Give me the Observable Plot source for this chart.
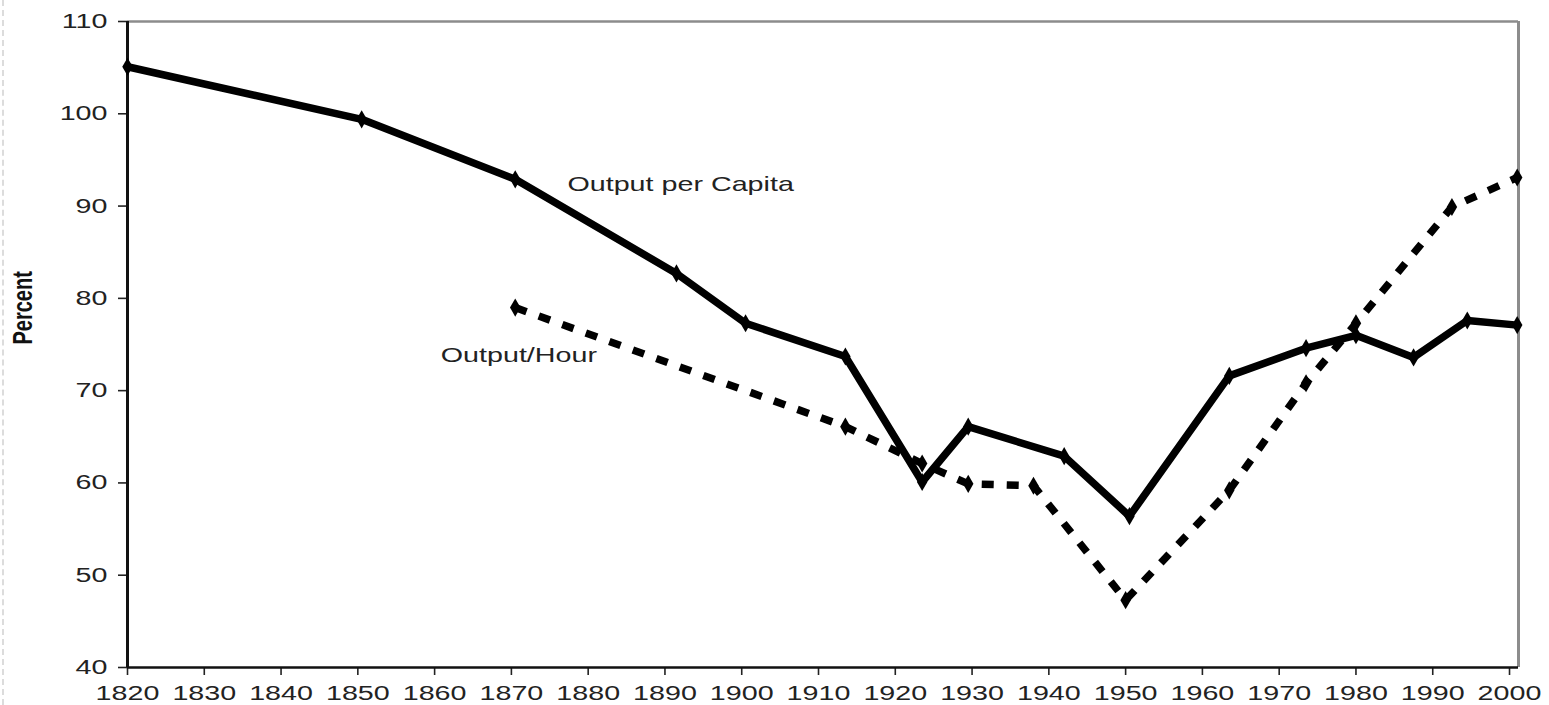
<!DOCTYPE html>
<html><head><meta charset="utf-8">
<script src="https://cdn.jsdelivr.net/npm/d3@7"></script>
<script src="https://cdn.jsdelivr.net/npm/@observablehq/plot@0.6"></script>
<style>
html,body{margin:0;padding:0;background:#fff;}
#chart{position:relative;width:1549px;height:705px;overflow:hidden;}
#edge{position:absolute;left:2px;top:0;height:705px;border-left:2px dashed #dcdcdc;}
</style></head><body>
<div id="chart"><div id="edge"></div></div>
<script>
// Output per Capita (solid line)
const capitaYears  = [1820, 1850.5, 1870.5, 1891.5, 1900.5, 1913.5, 1923.5, 1929.5, 1942, 1950.5, 1963.5, 1973.5, 1980, 1987.5, 1994.5, 2001];
const capitaValues = [105.1, 99.4, 92.9, 82.7, 77.3, 73.7, 60.1, 66.1, 62.9, 56.4, 71.6, 74.6, 76.0, 73.6, 77.6, 77.1];
// Output/Hour (dashed line)
const hourYears  = [1870.5, 1913.5, 1923.5, 1929.5, 1938, 1950, 1963.5, 1973.5, 1980, 1992.5, 2001];
const hourValues = [79.0, 66.1, 62.1, 59.9, 59.7, 47.3, 59.2, 70.8, 77.3, 89.9, 93.1];
// Axis ticks
const xTicks = [1820, 1830, 1840, 1850, 1860, 1870, 1880, 1890, 1900, 1910, 1920, 1930, 1940, 1950, 1960, 1970, 1980, 1990, 2000];
const yTicks = [40, 50, 60, 70, 80, 90, 100, 110];
// Labels
const seriesLabels = [
  {x: 1877.3, y: 92.3, text: "Output per Capita"},
  {x: 1860.8, y: 73.8, text: "Output/Hour"}
];
const yLabel = "Percent";

const capita = capitaYears.map((x, i) => ({year: x, value: capitaValues[i]}));
const hour = hourYears.map((x, i) => ({year: x, value: hourValues[i]}));
const xMax = 2001.17;
const stretch = 1.4; // the reference's lettering is drawn horizontally widened

const plot = Plot.plot({
  width: 1549, height: 705,
  marginLeft: 127, marginRight: 31, marginTop: 21, marginBottom: 38,
  style: {fontFamily: "'Liberation Sans', Arial, sans-serif", fontSize: "20.5px", color: "#222", background: "#fff"},
  x: {domain: [1820, xMax], label: null},
  y: {domain: [40, 110], label: null},
  marks: [
    Plot.ruleY([110], {stroke: "#8c8c8c", strokeWidth: 2.5}),
    Plot.ruleX([xMax], {stroke: "#8c8c8c", strokeWidth: 3}),
    Plot.axisY({ticks: yTicks, tickSize: 9, tickPadding: 11, label: null, stroke: "#222", strokeWidth: 1.6, fill: "#222"}),
    Plot.axisX({ticks: xTicks, tickSize: 8, tickPadding: 10, label: null, tickFormat: d => String(d), stroke: "#222", strokeWidth: 1.6, fill: "#222"}),
    Plot.ruleX([1820], {stroke: "#111", strokeWidth: 3}),
    Plot.ruleY([40], {stroke: "#111", strokeWidth: 2.5}),
    Plot.line(hour, {x: "year", y: "value", stroke: "#000", strokeWidth: 7.5, strokeDasharray: "12,13", strokeLinecap: "butt"}),
    Plot.dot(hour, {x: "year", y: "value", symbol: "diamond", r: 5.5, fill: "#000", stroke: "none"}),
    Plot.line(capita, {x: "year", y: "value", stroke: "#000", strokeWidth: 7.5, strokeLinejoin: "round"}),
    Plot.dot(capita, {x: "year", y: "value", symbol: "diamond", r: 5.5, fill: "#000", stroke: "none"}),
    Plot.text(seriesLabels, {x: "x", y: "y", text: "text", textAnchor: "start", fontSize: 20.5, fill: "#222"}),
    Plot.text([yLabel], {frameAnchor: "left", dx: -104, rotate: -90, fontSize: 20, fontWeight: "bold", fill: "#111"})
  ]
});
// widen lettering horizontally, as in the reference
plot.querySelectorAll("text").forEach(t => {
  let tr = t.getAttribute("transform");
  if (!tr) {
    const x = t.getAttribute("x") || 0, y = t.getAttribute("y") || 0;
    t.removeAttribute("x"); t.removeAttribute("y");
    tr = `translate(${x},${y})`;
  }
  const rotated = /rotate\(/.test(tr);
  t.setAttribute("transform", tr + (rotated ? ` scale(1,${stretch})` : ` scale(${stretch},1)`));
});
document.getElementById("chart").appendChild(plot);
</script>
</body></html>
